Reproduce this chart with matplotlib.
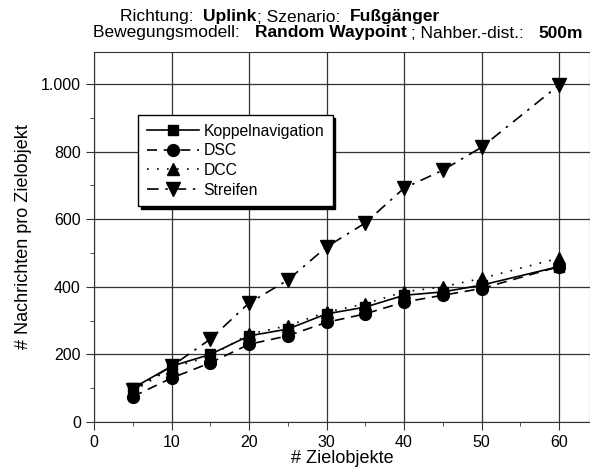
import matplotlib
matplotlib.use("Agg")
import matplotlib.pyplot as plt
from matplotlib.ticker import MultipleLocator, FuncFormatter

plt.rcParams['font.family'] = ['Liberation Sans', 'DejaVu Sans']

ziele = [5, 10, 15, 20, 25, 30, 35, 40, 45, 50, 60]
koppel = [100, 165, 200, 255, 275, 320, 340, 375, 385, 405, 460]
dsc = [75, 130, 175, 230, 255, 295, 320, 355, 375, 395, 460]
dcc = [90, 160, 195, 260, 285, 325, 350, 385, 400, 425, 485]
streifen = [95, 165, 245, 352, 420, 518, 589, 692, 745, 813, 997]

fig = plt.figure(figsize=(5.9, 4.72), dpi=100)
ax = fig.add_axes([94 / 590, 50 / 472, 496 / 590, 370 / 472])

ax.plot(ziele, koppel, color='black', lw=1.2, ls='-', marker='s', ms=7.5, label='Koppelnavigation')
ax.plot(ziele, dsc, color='black', lw=1.2, ls=(0, (6, 4)), marker='o', ms=8.5, label='DSC')
ax.plot(ziele, dcc, color='black', lw=1.2, ls=(0, (1, 5)), marker='^', ms=8.5, label='DCC')
ax.plot(ziele, streifen, color='black', lw=1.2, ls=(0, (7, 4, 1.5, 4)), marker='v', ms=9.5, label='Streifen')

ax.set_xlim(0, 64)
ax.set_ylim(0, 1095)
ax.xaxis.set_major_locator(MultipleLocator(10))
ax.xaxis.set_minor_locator(MultipleLocator(5))
ax.yaxis.set_major_locator(MultipleLocator(200))
ax.yaxis.set_minor_locator(MultipleLocator(100))
ax.yaxis.set_major_formatter(FuncFormatter(lambda v, p: f"{int(v):,}".replace(",", ".")))
ax.grid(True, which='major', color='#333333', lw=0.9)
ax.set_axisbelow(True)
ax.tick_params(which='both', direction='out', labelsize=11.5, color='#333333')
ax.tick_params(which='major', length=6)
ax.tick_params(which='minor', length=3)
for s in ax.spines.values():
    s.set_color('#333333')

ax.set_xlabel('# Zielobjekte', fontsize=13, labelpad=0)
ax.set_ylabel('# Nachrichten pro Zielobjekt', fontsize=13, labelpad=6)

leg = ax.legend(loc='upper left', bbox_to_anchor=(0.089, 0.83), fontsize=11.3,
                handlelength=3.3, frameon=True, fancybox=False, shadow={'color': 'black', 'alpha': 1},
                borderpad=0.55, labelspacing=0.3, handletextpad=0.3, borderaxespad=0)
leg.get_frame().set_edgecolor('black')
leg.get_frame().set_linewidth(1.0)


def write_line(parts, x, y):
    fig.canvas.draw()
    r = fig.canvas.get_renderer()
    for txt, bold in parts:
        t = fig.text(x, y, txt, fontsize=12.5, fontweight='bold' if bold else 'normal', va='baseline')
        bb = t.get_window_extent(renderer=r)
        x += bb.width / fig.bbox.width


write_line([("Richtung:  ", False), ("Uplink", True), ("; Szenario:  ", False), ("Fußgänger", True)],
           120 / 590, 1 - 21.5 / 472)
write_line([("Bewegungsmodell:   ", False), ("Random Waypoint", True), (" ; Nahber.-dist.:   ", False), ("500m", True)],
           93 / 590, 1 - 37.5 / 472)

fig.savefig('out.png', dpi=100)
